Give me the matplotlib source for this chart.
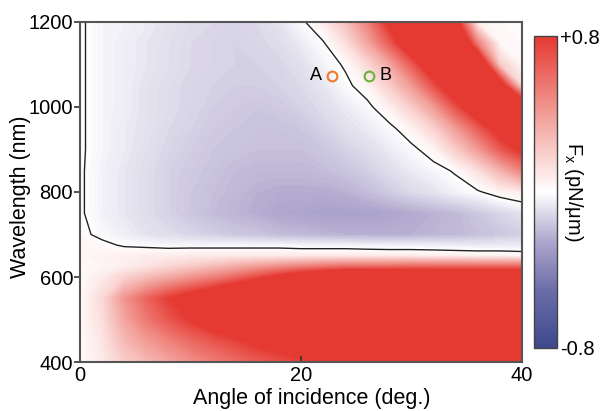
import numpy as np
import matplotlib
matplotlib.use('Agg')
import matplotlib.pyplot as plt
from matplotlib.colors import LinearSegmentedColormap, Normalize

plt.rcParams['font.family'] = ['Liberation Sans', 'DejaVu Sans']

# angle of incidence (deg.) and wavelength (nm) of the sampled field
angles = np.arange(0, 41, 2)
wavelengths = [1200, 1150, 1100, 1050, 1000, 950, 900, 850, 800, 750,
               700, 675, 650, 625, 600, 550, 500, 450, 400]

# Fx (pN/um), one row per wavelength (top to bottom), one column per angle
fx_rows = [
    [0.01,-0.03,-0.04,-0.06,-0.08,-0.10,-0.11,-0.12,-0.11,-0.08,-0.02,0.08,0.25,0.50,0.85,1.20,1.20,0.90,0.05,0.02,0.02],
    [0.01,-0.03,-0.05,-0.07,-0.09,-0.11,-0.12,-0.13,-0.12,-0.10,-0.06,-0.01,0.12,0.35,0.65,1.00,1.30,1.30,0.50,0.03,0.02],
    [0.01,-0.03,-0.05,-0.07,-0.09,-0.11,-0.12,-0.13,-0.13,-0.12,-0.09,-0.04,0.01,0.15,0.35,0.65,1.00,1.30,1.20,0.20,0.03],
    [0.01,-0.03,-0.05,-0.08,-0.10,-0.12,-0.13,-0.14,-0.14,-0.13,-0.11,-0.07,-0.02,0.04,0.20,0.40,0.70,1.00,1.30,1.00,0.15],
    [0.01,-0.03,-0.05,-0.08,-0.10,-0.12,-0.14,-0.15,-0.16,-0.15,-0.13,-0.10,-0.06,-0.02,0.06,0.20,0.40,0.70,1.00,1.20,1.20],
    [0.01,-0.03,-0.06,-0.08,-0.11,-0.13,-0.15,-0.16,-0.17,-0.17,-0.16,-0.13,-0.09,-0.06,-0.02,0.05,0.18,0.40,0.65,0.90,1.10],
    [0.01,-0.03,-0.06,-0.09,-0.12,-0.14,-0.16,-0.17,-0.18,-0.18,-0.18,-0.16,-0.13,-0.10,-0.06,-0.02,0.04,0.20,0.40,0.65,0.85],
    [0.01,-0.04,-0.07,-0.10,-0.13,-0.15,-0.17,-0.19,-0.20,-0.20,-0.20,-0.19,-0.17,-0.14,-0.10,-0.06,-0.03,0.01,0.12,0.30,0.50],
    [0.01,-0.04,-0.07,-0.10,-0.13,-0.16,-0.18,-0.20,-0.22,-0.23,-0.23,-0.23,-0.22,-0.19,-0.15,-0.11,-0.08,-0.04,-0.01,0.04,0.08],
    [0.01,-0.04,-0.07,-0.10,-0.13,-0.16,-0.19,-0.21,-0.23,-0.25,-0.26,-0.27,-0.27,-0.27,-0.26,-0.24,-0.22,-0.20,-0.16,-0.12,-0.09],
    [0.02,-0.02,-0.05,-0.08,-0.10,-0.12,-0.14,-0.16,-0.17,-0.19,-0.20,-0.21,-0.22,-0.22,-0.22,-0.22,-0.21,-0.20,-0.18,-0.16,-0.14],
    [0.04,0.02,-0.01,-0.02,-0.03,-0.03,-0.03,-0.03,-0.03,-0.03,-0.04,-0.04,-0.04,-0.05,-0.05,-0.05,-0.05,-0.06,-0.06,-0.06,-0.06],
    [0.03,0.05,0.06,0.07,0.07,0.08,0.08,0.08,0.08,0.08,0.08,0.08,0.08,0.08,0.07,0.07,0.06,0.06,0.05,0.05,0.04],
    [0.02,0.04,0.07,0.11,0.16,0.21,0.27,0.33,0.39,0.45,0.50,0.55,0.58,0.58,0.59,0.60,0.60,0.60,0.60,0.60,0.60],
    [0.02,0.08,0.18,0.26,0.34,0.42,0.50,0.60,0.72,0.85,1.00,1.10,1.20,1.20,1.20,1.20,1.20,1.20,1.20,1.20,1.20],
    [0.02,0.15,0.42,0.62,0.78,0.92,1.05,1.20,1.35,1.50,1.50,1.50,1.50,1.50,1.50,1.50,1.50,1.50,1.50,1.50,1.50],
    [0.02,0.13,0.36,0.54,0.68,0.80,0.92,1.05,1.15,1.25,1.30,1.40,1.40,1.40,1.40,1.40,1.40,1.40,1.40,1.40,1.40],
    [0.02,0.10,0.28,0.40,0.50,0.60,0.68,0.76,0.84,0.90,0.97,1.05,1.15,1.30,1.30,1.30,1.30,1.30,1.30,1.30,1.30],
    [0.02,0.08,0.20,0.28,0.36,0.44,0.52,0.59,0.65,0.70,0.76,0.82,0.90,1.00,1.10,1.20,1.20,1.20,1.20,1.20,1.20],
]

# marked points
point_names = ['A', 'B']
point_angles = [22.8, 26.2]
point_wavelengths = [1073, 1073]
point_colors = ['#f07a2a', '#6ab23c']

fx = np.array(fx_rows)
cmap = LinearSegmentedColormap.from_list(
    'fx', [(0.0, '#3d4a8c'), (0.18, '#6a6ca8'), (0.34, '#ada5cc'), (0.5, '#ffffff'),
           (0.75, '#f29d97'), (1.0, '#e53a32')])
norm = Normalize(-0.8, 0.8)

fig = plt.figure(figsize=(6.01, 4.11), dpi=100)
ax = fig.add_axes([0.1331, 0.1192, 0.7354, 0.8273])
cax = fig.add_axes([0.8885, 0.1533, 0.0383, 0.7591])

levels = np.linspace(-0.8, 0.8, 161)
cf = ax.contourf(angles, wavelengths, fx, levels=levels, cmap=cmap, norm=norm, extend='both')
ax.contour(angles, wavelengths, fx, levels=[0], colors='#222222', linewidths=1.0)

for name, a, w, c in zip(point_names, point_angles, point_wavelengths, point_colors):
    ax.plot(a, w, 'o', mfc='none', mec=c, ms=7, mew=1.5)
    if name == 'A':
        ax.text(a - 0.9, w, name, ha='right', va='center', fontsize=13)
    else:
        ax.text(a + 0.9, w, name, ha='left', va='center', fontsize=13)

ax.set_xlim(0, 40)
ax.set_ylim(400, 1200)
ax.set_xticks([0, 20, 40])
ax.set_yticks([400, 600, 800, 1000, 1200])
ax.tick_params(axis='y', direction='out', length=4, width=1.2, labelsize=14.5, pad=1, color='#333333')
ax.tick_params(axis='x', direction='in', length=4, width=1.2, labelsize=14.5, pad=3, color='#333333')
for s in ax.spines.values():
    s.set_color('#555555')
    s.set_linewidth(1.5)
ax.set_xlabel('Angle of incidence (deg.)', fontsize=15.5)
ax.xaxis.set_label_coords(0.525, -0.075)
ax.set_ylabel('Wavelength (nm)', fontsize=15.5)
ax.yaxis.set_label_coords(-0.11, 0.487)

sm = plt.cm.ScalarMappable(norm=norm, cmap=cmap)
cb = fig.colorbar(sm, cax=cax, ticks=[-0.8, 0.8])
cb.ax.set_yticklabels(['-0.8', '+0.8'])
cb.ax.tick_params(length=0, labelsize=14.5, pad=2)
cb.outline.set_edgecolor('#444444')
cb.outline.set_linewidth(1.0)
cax.text(1.72, 0.5, 'F$_\\mathregular{x}$ (pN/\u03bcm)', rotation=270, fontsize=14.5,
         ha='center', va='center', transform=cax.transAxes)

fig.savefig('out.png', dpi=100)
